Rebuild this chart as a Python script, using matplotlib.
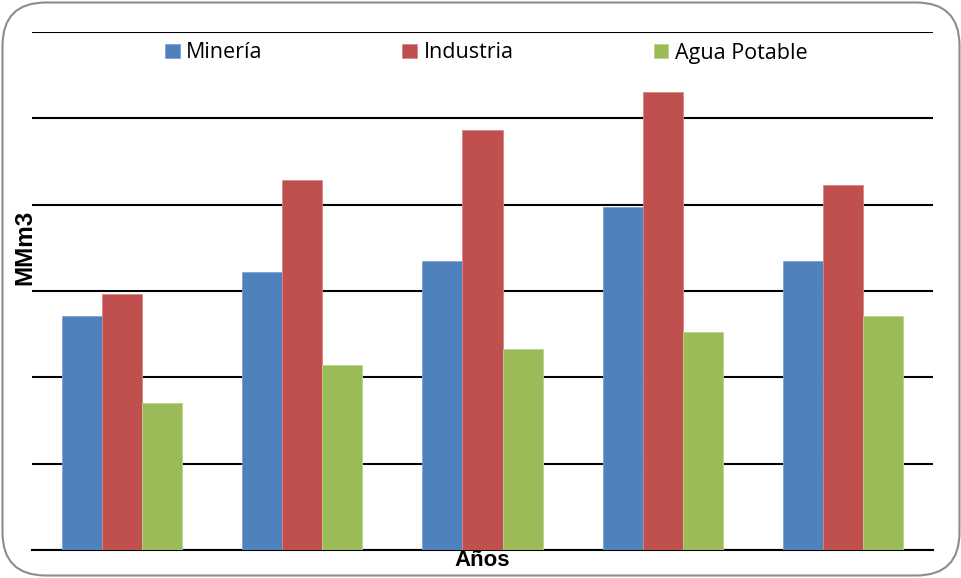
import matplotlib
matplotlib.use("Agg")
import matplotlib.pyplot as plt
import numpy as np
from matplotlib.patches import FancyBboxPatch

categories = ["1", "2", "3", "4", "5"]
series_names = ["Minería", "Industria", "Agua Potable"]
mineria = [2.71, 3.22, 3.35, 3.97, 3.35]
industria = [2.97, 4.29, 4.87, 5.31, 4.23]
agua = [1.70, 2.14, 2.33, 2.53, 2.71]
colors = ["#4F81BD", "#C0504D", "#9BBB59"]
edge_colors = ["#7FA3D3", "#D98683", "#B9D38A"]

plt.rcParams['font.family'] = ['Open Sans', 'DejaVu Sans']

fig = plt.figure(figsize=(9.62, 5.78), dpi=100)
W, H = 962, 578
ax = fig.add_axes([32 / W, 1 - 550 / H, (933 - 32) / W, (550 - 32) / H])

x = np.arange(len(categories))
bw = 0.222
for i, (vals, c, ec, name) in enumerate(zip([mineria, industria, agua], colors, edge_colors, series_names)):
    ax.bar(x + (i - 1) * bw, vals, width=bw, color=c, edgecolor=ec, linewidth=0.6,
           label=name, zorder=3)

ax.set_xlim(-0.5, len(categories) - 0.5)
ax.set_ylim(0, 6)
ax.set_yticks(np.arange(0, 7, 1))
ax.yaxis.grid(True, color="black", linewidth=1.5, zorder=1)
ax.set_axisbelow(True)
ax.tick_params(left=False, bottom=False, labelleft=False, labelbottom=False)
for s in ["left", "right", "top"]:
    ax.spines[s].set_visible(False)
ax.spines["bottom"].set_linewidth(1.5)
ax.spines["bottom"].set_color("black")

leg = ax.legend(loc="center", bbox_to_anchor=(0.504, (550 - 53) / 518), ncol=3, frameon=False,
                fontsize=15.5, handlelength=0.68, handleheight=0.68, handletextpad=0.3,
                columnspacing=6.5, borderpad=0)

fig.text(25 / W, 1 - 247 / H, "MMm3", rotation=90, fontweight="bold", fontsize=17.5,
         ha="center", va="center", family=['Liberation Sans', 'DejaVu Sans'])
fig.text(482 / W, 1 - 561 / H, "Años", fontweight="bold", fontsize=16,
         ha="center", va="center", family=['Liberation Sans', 'DejaVu Sans'])

border = FancyBboxPatch((2.5 / W, 2.5 / H), (959.5 - 2.5) / W, (575.5 - 2.5) / H,
                        boxstyle="round,pad=0,rounding_size=0.045",
                        transform=fig.transFigure, facecolor="none",
                        edgecolor="#8C8C8C", linewidth=1.5, mutation_aspect=W / H)
fig.patches.append(border)

fig.savefig("out.png", dpi=100)
